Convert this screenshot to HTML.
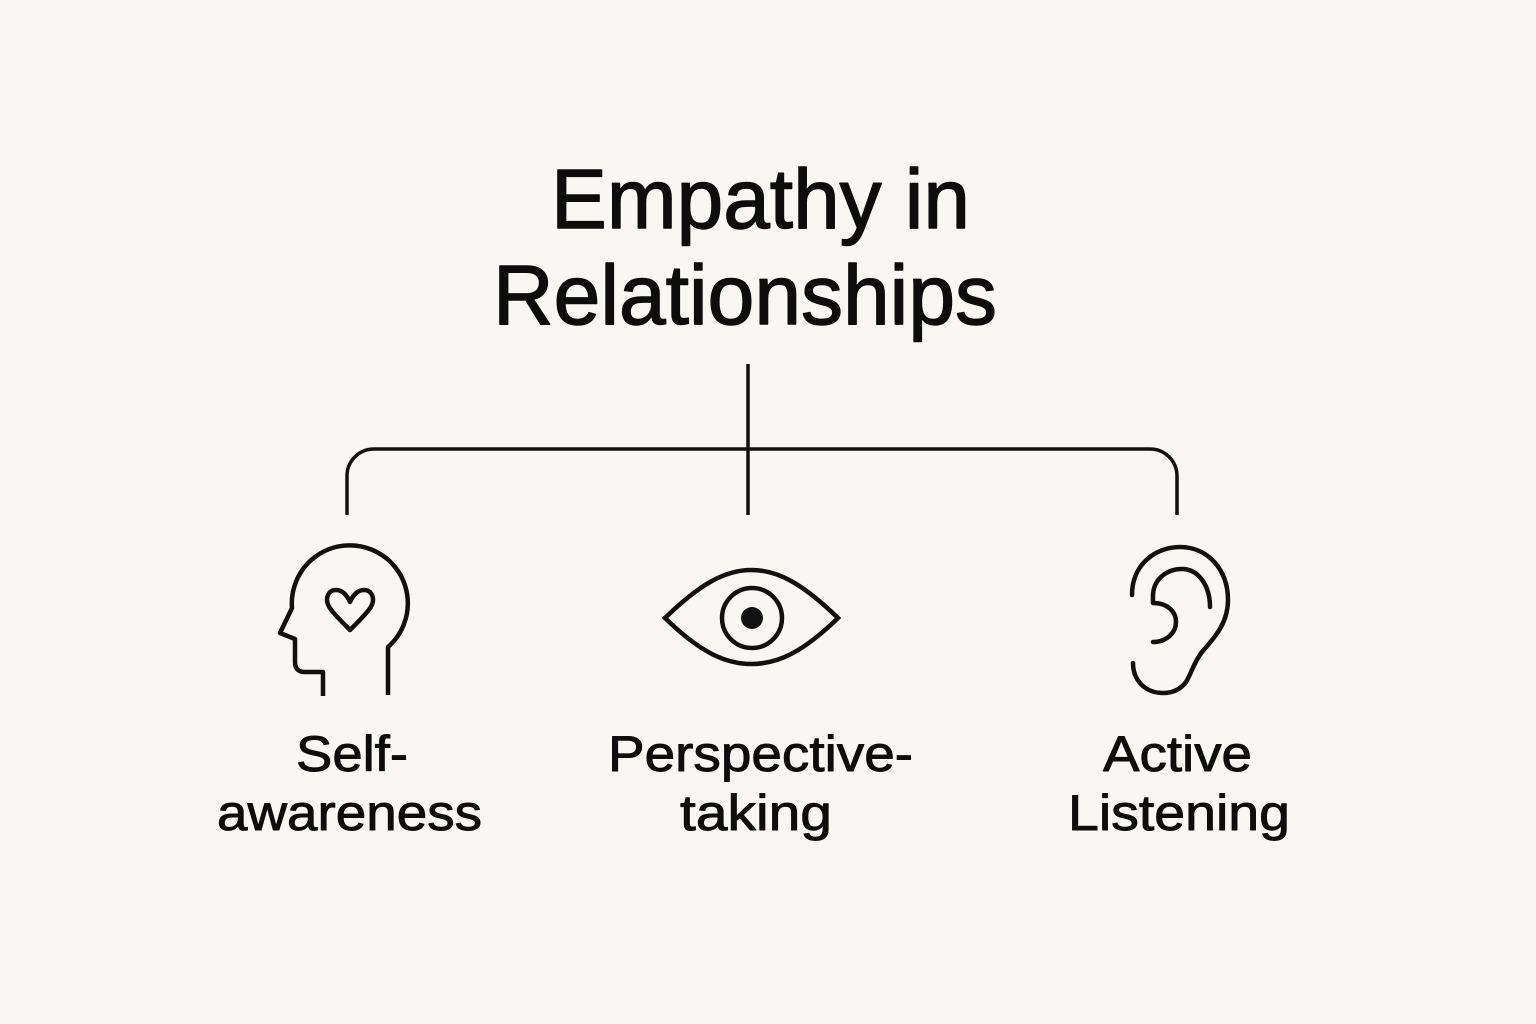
<!DOCTYPE html>
<html>
<head>
<meta charset="utf-8">
<style>
  html, body { margin: 0; padding: 0; background: #f8f7f3; }
  body { width: 1536px; height: 1024px; overflow: hidden; }
  svg { display: block; }
  text { font-family: "Liberation Sans", Arial, sans-serif; fill: #0d0d0d; stroke: #0d0d0d; stroke-linejoin: round; }
</style>
</head>
<body>
<svg width="1536" height="1024" viewBox="0 0 1536 1024" xmlns="http://www.w3.org/2000/svg">
  <rect width="1536" height="1024" fill="#f8f7f3" stroke="none"/>

  <!-- Title -->
  <text x="551" y="228" font-size="84" stroke-width="1.4" textLength="419" lengthAdjust="spacingAndGlyphs">Empathy in</text>
  <text x="493" y="324" font-size="84" stroke-width="1.4" textLength="504" lengthAdjust="spacingAndGlyphs">Relationships</text>

  <!-- Connectors -->
  <g fill="none" stroke="#111" stroke-width="3.5">
    <line x1="748" y1="364" x2="748" y2="515"/>
    <path d="M347 515 L347 476 A27 27 0 0 1 374 449 L1150 449 A27 27 0 0 1 1177 476 L1177 515"/>
  </g>

  <!-- Head icon -->
  <g fill="none" stroke="#111" stroke-width="4.5" stroke-linejoin="round" stroke-linecap="butt">
    <path d="M388 695 L388 647 A58 58 0 1 0 292 608 L280 633 L295 639 L295 662 Q295 672 305 672 L323 672 L323 696"/>
    <path d="M350 602 C346 593 341 590 336 590 C329 590 327 596 327 600 C327 606 331 611 350 630 C369 611 373 606 373 600 C373 596 371 590 364 590 C359 590 354 593 350 602 Z"/>
  </g>

  <!-- Eye icon -->
  <g fill="none" stroke="#111" stroke-width="4.5" stroke-linejoin="miter">
    <path d="M665 618 C700 584 725 570 751.5 570 C778 570 803 584 838 618 C803 652 778 664 751.5 664 C725 664 700 652 665 618 Z"/>
    <circle cx="752" cy="618" r="30"/>
  </g>
  <circle cx="752" cy="618" r="11" fill="#111"/>

  <!-- Ear icon -->
  <g fill="none" stroke="#111" stroke-width="4.5" stroke-linecap="round" stroke-linejoin="round">
    <path d="M1132 595 C1132 565 1155 547 1180 547 C1208 547 1228 570 1228 600 C1228 625 1212 640 1202 652 C1194 662 1192 672 1186 682 C1180 690 1172 693 1163 693 C1145 693 1133 680 1133 663"/>
    <path d="M1210 607 C1210 585 1198 569 1182 569 C1166 569 1153 580 1153 596 L1153 603 C1168 603 1176 612 1176 622 C1176 633 1166 642 1153 642"/>
  </g>

  <!-- Labels -->
  <text x="296" y="771" font-size="50" stroke-width="0.9" textLength="112" lengthAdjust="spacingAndGlyphs">Self-</text>
  <text x="217" y="830" font-size="50" stroke-width="0.9" textLength="265" lengthAdjust="spacingAndGlyphs">awareness</text>

  <text x="608" y="771" font-size="50" stroke-width="0.9" textLength="305" lengthAdjust="spacingAndGlyphs">Perspective-</text>
  <text x="680" y="830" font-size="50" stroke-width="0.9" textLength="152" lengthAdjust="spacingAndGlyphs">taking</text>

  <text x="1103" y="771" font-size="50" stroke-width="0.9" textLength="149" lengthAdjust="spacingAndGlyphs">Active</text>
  <text x="1068" y="830" font-size="50" stroke-width="0.9" textLength="222" lengthAdjust="spacingAndGlyphs">Listening</text>
</svg>
</body>
</html>
